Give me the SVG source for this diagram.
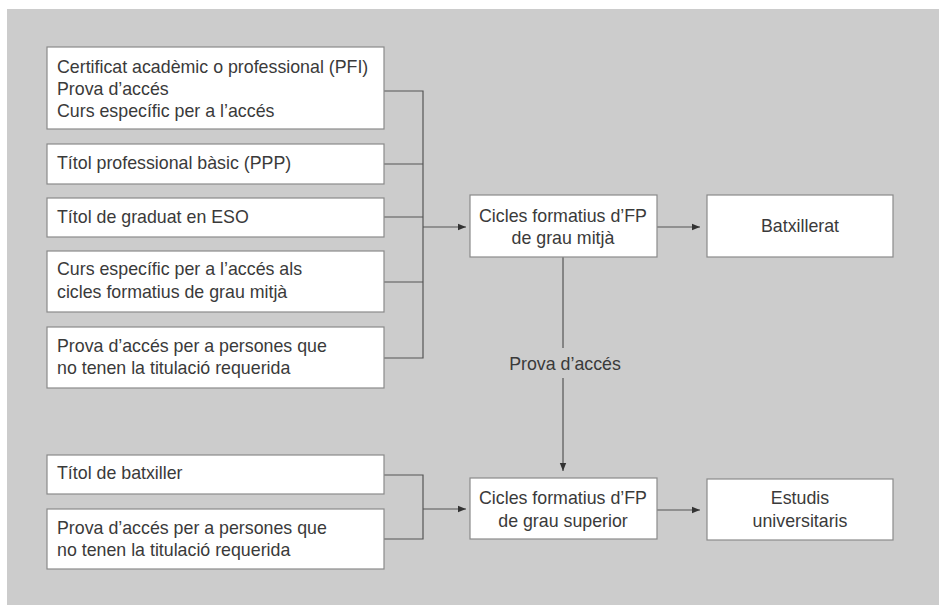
<svg xmlns="http://www.w3.org/2000/svg" width="939" height="605" viewBox="0 0 939 605">
<defs>
<marker id="arr" viewBox="0 0 8 8" refX="8" refY="4" markerWidth="8" markerHeight="8" markerUnits="userSpaceOnUse" orient="auto">
<path d="M0,0.8 L8,4 L0,7.2 Z" fill="#333"/>
</marker>
<style>
.box{fill:#fff;stroke:#8a8a8a;stroke-width:1.2}
.t{font-family:"Liberation Sans",Arial,sans-serif;font-size:17.8px;fill:#3a3a3a}
.c{text-anchor:middle}
.ln{fill:none;stroke:#555;stroke-width:1.2}
</style>
</defs>
<rect x="0" y="0" width="939" height="605" fill="#fff"/>
<rect x="7" y="9" width="932" height="596" fill="#cccccc"/>
<g id="connectors">
<path class="ln" d="M384,91 H423 V358 H384 M384,164 H423 M384,217 H423 M384,282 H423"/>
<path class="ln" d="M423,227 H466" marker-end="url(#arr)"/>
<path class="ln" d="M657,227 H700" marker-end="url(#arr)"/>
<path class="ln" d="M563,257 V348"/>
<path class="ln" d="M563,378 V471" marker-end="url(#arr)"/>
<path class="ln" d="M384,475 H423 V539 H384"/>
<path class="ln" d="M423,509 H466" marker-end="url(#arr)"/>
<path class="ln" d="M657,510 H700" marker-end="url(#arr)"/>
<text class="t c" x="565" y="370">Prova d’accés</text>
</g>
<g id="n1"><rect class="box" x="47" y="47" width="337" height="82"/>
<text class="t" x="57" y="73">Certificat acadèmic o professional (PFI)</text>
<text class="t" x="57" y="95">Prova d’accés</text>
<text class="t" x="57" y="117">Curs específic per a l’accés</text></g>
<g id="n2"><rect class="box" x="47" y="144" width="337" height="40"/>
<text class="t" x="57" y="169">Títol professional bàsic (PPP)</text></g>
<g id="n3"><rect class="box" x="47" y="198" width="337" height="39"/>
<text class="t" x="57" y="223">Títol de graduat en ESO</text></g>
<g id="n4"><rect class="box" x="47" y="251" width="337" height="61"/>
<text class="t" x="57" y="275">Curs específic per a l’accés als</text>
<text class="t" x="57" y="298">cicles formatius de grau mitjà</text></g>
<g id="n5"><rect class="box" x="47" y="327" width="337" height="61"/>
<text class="t" x="57" y="352">Prova d’accés per a persones que</text>
<text class="t" x="57" y="374">no tenen la titulació requerida</text></g>
<g id="n6"><rect class="box" x="47" y="455" width="337" height="39"/>
<text class="t" x="57" y="479">Títol de batxiller</text></g>
<g id="n7"><rect class="box" x="47" y="509" width="337" height="60"/>
<text class="t" x="57" y="534">Prova d’accés per a persones que</text>
<text class="t" x="57" y="556">no tenen la titulació requerida</text></g>
<g id="mitja"><rect class="box" x="470" y="195" width="187" height="62"/>
<text class="t c" x="563" y="222">Cicles formatius d’FP</text>
<text class="t c" x="563" y="244">de grau mitjà</text></g>
<g id="batx"><rect class="box" x="707" y="195" width="186" height="62"/>
<text class="t c" x="800" y="232">Batxillerat</text></g>
<g id="superior"><rect class="box" x="470" y="478" width="187" height="61"/>
<text class="t c" x="563" y="504">Cicles formatius d’FP</text>
<text class="t c" x="563" y="527">de grau superior</text></g>
<g id="univ"><rect class="box" x="707" y="479" width="186" height="61"/>
<text class="t c" x="800" y="504">Estudis</text>
<text class="t c" x="800" y="527">universitaris</text></g>
</svg>
